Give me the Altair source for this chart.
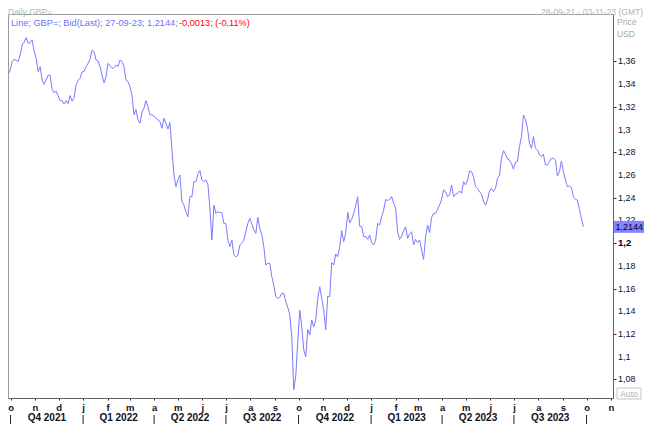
import altair as alt
import pandas as pd

# ---------------- data ----------------
start_date = "2021-09-28"
end_date = "2023-09-27"

prices = [
    # Sep 2021 - Feb 2022
    1.349, 1.352, 1.360, 1.362, 1.361, 1.360, 1.3657, 1.3745, 1.377, 1.381,
    1.376, 1.3765, 1.379, 1.369, 1.3628, 1.351, 1.3554, 1.3437, 1.340, 1.3437,
    1.348, 1.348, 1.3355, 1.3325, 1.334, 1.330, 1.3255, 1.3255, 1.3225, 1.3255,
    1.323, 1.330, 1.325, 1.328, 1.3395, 1.343, 1.3452, 1.351, 1.351, 1.3554,
    1.3584, 1.362, 1.3701, 1.3686, 1.3613, 1.3604, 1.3554, 1.348, 1.341, 1.3466,
    1.3584, 1.356, 1.354, 1.3545, 1.3569, 1.3555, 1.3613, 1.360, 1.3554, 1.3437,
    1.3422, 1.3378, 1.330, 1.313, 1.3179, 1.3085, 1.3056, 1.315, 1.319, 1.3255,
    1.320, 1.313, 1.3129, 1.312, 1.310,
    # Mar 2022 - Oct 2022
    1.3085, 1.307, 1.3012, 1.310, 1.3055, 1.3005, 1.3063, 1.2821, 1.2601, 1.2498,
    1.2557, 1.260, 1.2366, 1.2336, 1.2277, 1.2233, 1.241, 1.241, 1.2542, 1.2542,
    1.261, 1.264, 1.2557, 1.2542, 1.2557, 1.252, 1.231, 1.2028, 1.2336, 1.2263,
    1.2277, 1.227, 1.2268, 1.2175, 1.2175, 1.2028, 1.197, 1.2028, 1.1896, 1.188,
    1.1896, 1.1984, 1.200, 1.2028, 1.210, 1.2175, 1.222, 1.217, 1.2116, 1.2086,
    1.2228, 1.213, 1.2077, 1.197, 1.1808, 1.1823, 1.1823, 1.1706, 1.163, 1.153,
    1.1515, 1.1524, 1.1559, 1.1559, 1.1485, 1.1436, 1.137, 1.118, 1.071, 1.083,
    1.1133, 1.141, 1.1265, 1.106, 1.100, 1.124, 1.1192,
    # Oct 2022 - Apr 2023
    1.1324, 1.1265, 1.1324, 1.1515, 1.1617, 1.1515, 1.141, 1.1236, 1.1535, 1.1529,
    1.1829, 1.1808, 1.1905, 1.188, 1.197, 1.211, 1.2013, 1.2087, 1.227, 1.218,
    1.221, 1.2263, 1.233, 1.241, 1.215, 1.2145, 1.2057, 1.206, 1.2034, 1.2072,
    1.2005, 1.1984, 1.2028, 1.2175, 1.216, 1.2233, 1.2292, 1.2386, 1.2375, 1.2386,
    1.241, 1.2351, 1.2307, 1.2101, 1.2034, 1.2063, 1.211, 1.2145, 1.2043, 1.2081,
    1.2101, 1.1984, 1.2034, 1.2005, 1.2028, 1.194, 1.1858, 1.2057, 1.216, 1.2093,
    1.2227, 1.2263, 1.2263, 1.2298, 1.2336, 1.2386, 1.2469, 1.2454, 1.241, 1.2424,
    1.2513, 1.241, 1.2433,
    # Apr 2023 - Sep 2023
    1.2439, 1.246, 1.2439, 1.2542, 1.2513, 1.2557, 1.2637, 1.263, 1.2586, 1.250,
    1.2483, 1.2454, 1.2433, 1.2366, 1.2335, 1.238, 1.246, 1.2483, 1.2454, 1.2483,
    1.257, 1.260, 1.2748, 1.2815, 1.2787, 1.274, 1.2733, 1.270, 1.2652, 1.2715,
    1.2718, 1.285, 1.2938, 1.3129, 1.3091, 1.3012, 1.288, 1.2836, 1.2938, 1.2836,
    1.282, 1.2777, 1.2762, 1.2785, 1.2689, 1.2689, 1.2718, 1.2748, 1.2748, 1.2733,
    1.2592, 1.263, 1.2724, 1.263, 1.2557, 1.2498, 1.2504, 1.2492, 1.241, 1.2386,
    1.238, 1.2298, 1.2219, 1.2144,
]

quarter_labels = ["Q4 2021", "Q1 2022", "Q2 2022", "Q3 2022",
                  "Q4 2022", "Q1 2023", "Q2 2023", "Q3 2023"]
quarter_starts = ["2021-10-01", "2022-01-01", "2022-04-01", "2022-07-01",
                  "2022-10-01", "2023-01-01", "2023-04-01", "2023-07-01",
                  "2023-10-01"]

y_ticks = [1.08, 1.10, 1.12, 1.14, 1.16, 1.18, 1.20, 1.22,
           1.24, 1.26, 1.28, 1.30, 1.32, 1.34, 1.36]
bold_tick = 1.20

last_value = [1.2144]
last_label = ["1,2144"]

legend_main = "Line; GBP=; Bid(Last); 27-09-23; 1,2144;"
legend_change = "-0,0013; (-0,11%)"
header_left = "Daily GBP="
header_right = "28-09-21 - 03-11-23 (GMT)"

# ---------------- tables ----------------
df = pd.DataFrame({
    "date": pd.date_range(start_date, end_date, periods=len(prices)),
    "price": prices,
})
qs = pd.to_datetime(quarter_starts)
df_q = pd.DataFrame({
    "date": [qs[i] + (qs[i + 1] - qs[i]) / 2 for i in range(len(quarter_labels))],
    "label": quarter_labels,
})
df_sep = pd.DataFrame({"date": qs})
df_last = pd.DataFrame({"price": last_value, "label": last_label})


def comma(v):
    return f"{v:.2f}".rstrip("0").replace(".", ",")


df_ticks = pd.DataFrame({"price": y_ticks, "label": [comma(v) for v in y_ticks]})
df_ticks_norm = df_ticks[(df_ticks["price"] - bold_tick).abs() > 1e-6]
df_ticks_bold = df_ticks[(df_ticks["price"] - bold_tick).abs() <= 1e-6]

# ---------------- styling ----------------
SANS = "Liberation Sans, Arial, sans-serif"
LINE = "#7b7bff"
W, H = 605, 384

x_scale = alt.Scale(
    domain=[alt.DateTime(year=2021, month=9, date=27, hours=19),
            alt.DateTime(year=2023, month=11, date=3, hours=13)],
    nice=False,
)
y_scale = alt.Scale(domain=[1.06371, 1.40182], nice=False, zero=False)

x_axis = alt.Axis(
    title=None,
    grid=False,
    tickCount={"interval": "month", "step": 1},
    labelExpr="lower(slice(timeFormat(datum.value, '%b'), 0, 1))",
    labelAngle=0,
    labelFlush=False,
    labelOverlap=False,
    tickSize=2,
    tickColor="#303030",
    domainColor="#606060",
    labelFont=SANS,
    labelFontSize=9.5,
    labelFontWeight="bold",
    labelColor="#101020",
    labelPadding=2,
)
y_axis = alt.Axis(
    title=None,
    orient="right",
    grid=False,
    values=y_ticks,
    labels=False,
    tickSize=3,
    tickColor="#303030",
    domainColor="#606060",
)

line = alt.Chart(df).mark_line(color=LINE, strokeWidth=1, clip=True).encode(
    x=alt.X("date:T", scale=x_scale, axis=x_axis),
    y=alt.Y("price:Q", scale=y_scale, axis=y_axis),
)

tick_labels = alt.Chart(df_ticks_norm).mark_text(
    font=SANS, fontSize=9, color="#101030", align="left", baseline="middle"
).encode(x=alt.value(610), y="price:Q", text="label:N")
tick_bold = alt.Chart(df_ticks_bold).mark_text(
    font=SANS, fontSize=9.5, fontWeight="bold", color="#000020", align="left", baseline="middle"
).encode(x=alt.value(610), y="price:Q", text="label:N")

quarters = alt.Chart(df_q).mark_text(
    font=SANS, fontSize=10, fontWeight="bold", color="#101020", baseline="middle"
).encode(x="date:T", y=alt.value(404), text="label:N")

seps = alt.Chart(df_sep).mark_rule(color="#202020", strokeWidth=1).encode(
    x="date:T", y=alt.value(401), y2=alt.value(410)
)

last_box = alt.Chart(df_last).mark_rect(color="#8585ff", yOffset=-6, y2Offset=6).encode(
    x=alt.value(606), x2=alt.value(636), y="price:Q", y2="price"
)
last_text = alt.Chart(df_last).mark_text(
    font=SANS, fontSize=9, color="#000030", align="left", baseline="middle"
).encode(x=alt.value(607.5), y="price:Q", text="label:N")


def label(txt, x, y, color, font=SANS, size=10, align="left", baseline="middle", weight="normal"):
    d = pd.DataFrame({"t": [txt]})
    return alt.Chart(d).mark_text(
        font=font, fontSize=size, color=color, align=align, baseline=baseline,
        fontWeight=weight,
    ).encode(x=alt.value(x), y=alt.value(y), text="t:N")


leg1 = label(legend_main, 3, 8.5, "#7070ff", size=9.2)
leg2 = label(legend_change, 171, 8.5, "#ff0000", size=9.2)
hdr1 = label(header_left, 0, -6, "#b4b4b4", size=8.5, baseline="top")
hdr2 = label(header_right, 635, -6, "#b4b4b4", size=8.5, align="right", baseline="top")
price_t = label("Price", 609, 8, "#a8a8a8", size=8.5)
usd_t = label("USD", 609, 19.5, "#a8a8a8", size=8.5)

auto_box = alt.Chart(pd.DataFrame({"t": ["Auto"]})).mark_rect(
    fill="#ffffff", stroke="#c4c4c4", strokeWidth=1
).encode(x=alt.value(609), x2=alt.value(633), y=alt.value(374), y2=alt.value(385))
auto_t = label("Auto", 621, 379.8, "#b0b0b0", size=8.5, align="center")

chart = alt.layer(
    line, seps, quarters, tick_labels, tick_bold, last_box, last_text,
    leg1, leg2, hdr1, hdr2, price_t, usd_t, auto_box, auto_t,
).properties(
    width=W, height=H,
    autosize=alt.AutoSizeParams(type="none"),
    padding={"left": 0, "top": 6, "right": 31, "bottom": 42},
    background="#ffffff",
).configure_view(
    stroke="#9a9a9a", strokeWidth=1
)

chart.save("out.html", embed_options={"renderer": "svg", "actions": False})
